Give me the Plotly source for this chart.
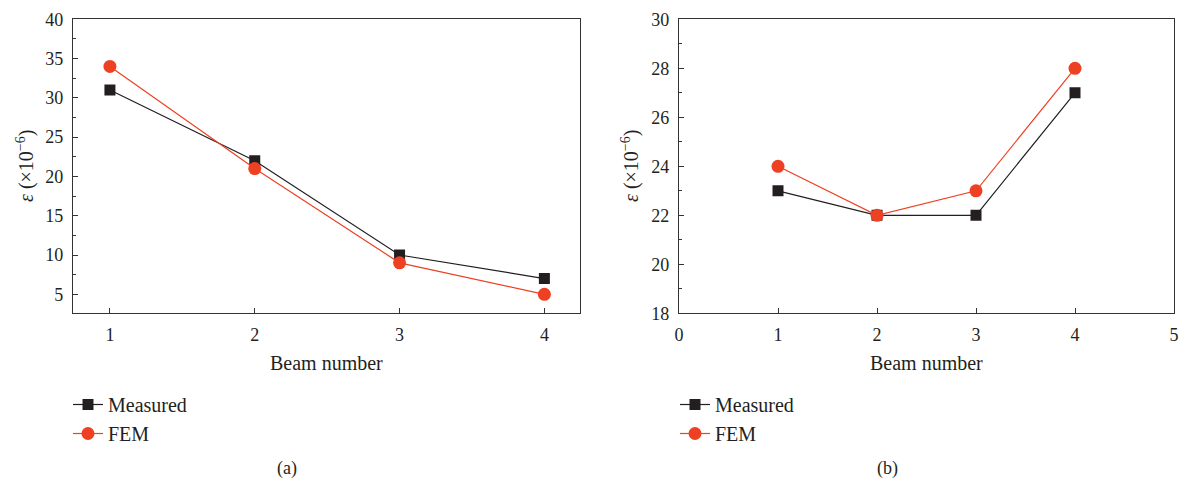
import plotly.graph_objects as go

beams = [1, 2, 3, 4]
measured_a = [31, 22, 10, 7]
fem_a = [34, 21, 9, 5]
measured_b = [23, 22, 22, 27]
fem_b = [24, 22, 23, 28]

BLACK = "#231f20"
RED = "#ee4123"
AX = "#333333"
FONT = "Liberation Serif"

fig = go.Figure()
fig.add_trace(go.Scatter(x=beams, y=measured_a, mode="lines+markers", name="Measured",
                         line=dict(color=BLACK, width=1.2),
                         marker=dict(symbol="square", size=11, color=BLACK),
                         xaxis="x", yaxis="y", legend="legend"))
fig.add_trace(go.Scatter(x=beams, y=fem_a, mode="lines+markers", name="FEM",
                         line=dict(color=RED, width=1.2),
                         marker=dict(symbol="circle", size=13, color=RED),
                         xaxis="x", yaxis="y", legend="legend"))
fig.add_trace(go.Scatter(x=beams, y=measured_b, mode="lines+markers", name="Measured",
                         line=dict(color=BLACK, width=1.2),
                         marker=dict(symbol="square", size=11, color=BLACK),
                         xaxis="x2", yaxis="y2", legend="legend2"))
fig.add_trace(go.Scatter(x=beams, y=fem_b, mode="lines+markers", name="FEM",
                         line=dict(color=RED, width=1.2),
                         marker=dict(symbol="circle", size=13, color=RED),
                         xaxis="x2", yaxis="y2", legend="legend2"))

W, H = 1186, 485
ydom = [1 - 313.3 / H, 1 - 19.3 / H]

common = dict(showline=True, linecolor=AX, linewidth=1.3, mirror=True, showgrid=False,
              zeroline=False, ticks="inside", ticklen=5, tickcolor=AX, tickwidth=1,
              automargin=False,
              tickfont=dict(family=FONT, size=18, color="#231f20"))

leg_common = dict(xanchor="left", yanchor="top", bgcolor="rgba(0,0,0,0)",
                  font=dict(family=FONT, size=20, color="#231f20"),
                  tracegroupgap=0, itemwidth=30)

fig.update_layout(
    width=W, height=H, autosize=False,
    margin=dict(l=0, r=0, t=0, b=0, pad=0, autoexpand=False),
    paper_bgcolor="white", plot_bgcolor="white",
    font=dict(family=FONT, color="#231f20"),
    xaxis=dict(domain=[73 / W, 580 / W], range=[0.745, 4.246], tickvals=[1, 2, 3, 4],
               anchor="y", ticklabelstandoff=5, **common),
    yaxis=dict(domain=ydom, range=[2.58, 40], tickvals=[5, 10, 15, 20, 25, 30, 35, 40],
               anchor="x", ticklabelstandoff=5,
               minor=dict(ticks="inside", ticklen=3, tickcolor=AX, dtick=2.5, tick0=0),
               **common),
    xaxis2=dict(domain=[679 / W, 1174 / W], range=[0, 5], tickvals=[0, 1, 2, 3, 4, 5],
                anchor="y2", ticklabelstandoff=5, **common),
    yaxis2=dict(domain=ydom, range=[18, 30], tickvals=[18, 20, 22, 24, 26, 28, 30],
                anchor="x2", ticklabelstandoff=5,
                minor=dict(ticks="inside", ticklen=3, tickcolor=AX, dtick=1, tick0=0),
                **common),
    legend=dict(x=68 / W, y=1 - 385 / H, **leg_common),
    legend2=dict(x=675 / W, y=1 - 385 / H, **leg_common),
    showlegend=True,
)

ann_font = dict(family=FONT, size=20, color="#231f20")
ytitle = "<i>ε</i> (×10<sup>−6</sup>)"
fig.add_annotation(text="Beam number", x=(73 + 580) / 2 / W, y=1 - 363 / H, xref="paper", yref="paper",
                   showarrow=False, font=ann_font, xanchor="center", yanchor="middle")
fig.add_annotation(text="Beam number", x=(679 + 1174) / 2 / W, y=1 - 363 / H, xref="paper", yref="paper",
                   showarrow=False, font=ann_font, xanchor="center", yanchor="middle")
fig.add_annotation(text=ytitle, x=25 / W, y=1 - 166 / H, xref="paper", yref="paper",
                   showarrow=False, font=ann_font, textangle=-90, xanchor="center", yanchor="middle")
fig.add_annotation(text=ytitle, x=630 / W, y=1 - 166 / H, xref="paper", yref="paper",
                   showarrow=False, font=ann_font, textangle=-90, xanchor="center", yanchor="middle")
fig.add_annotation(text="(a)", x=287 / W, y=1 - 468 / H, xref="paper", yref="paper",
                   showarrow=False, font=dict(family=FONT, size=18, color="#231f20"),
                   xanchor="center", yanchor="middle")
fig.add_annotation(text="(b)", x=887 / W, y=1 - 468 / H, xref="paper", yref="paper",
                   showarrow=False, font=dict(family=FONT, size=18, color="#231f20"),
                   xanchor="center", yanchor="middle")

fig.write_html("out.html")
